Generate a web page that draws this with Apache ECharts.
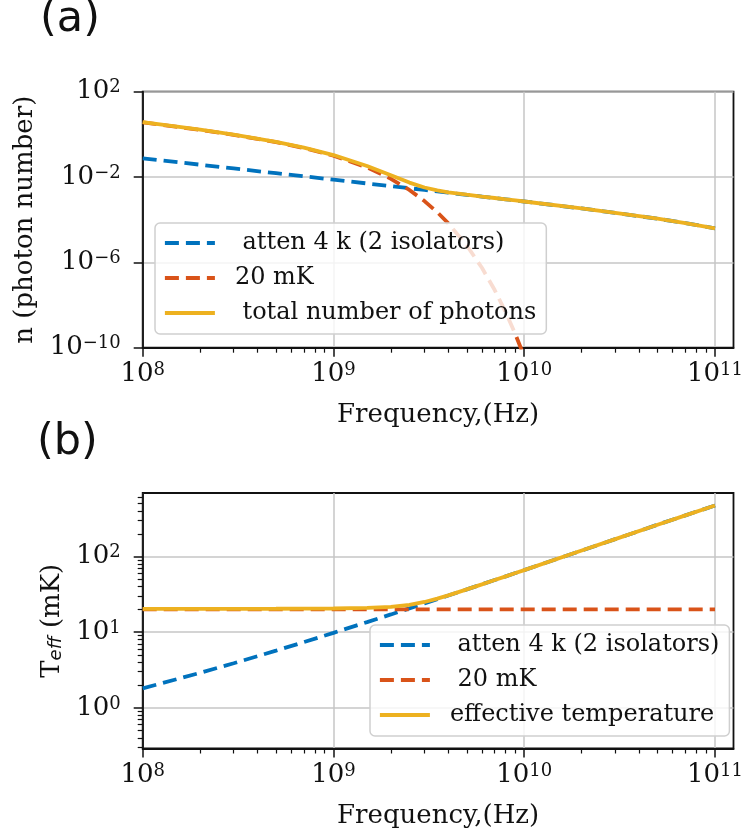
<!DOCTYPE html>
<html><head><meta charset="utf-8">
<script src="https://cdn.jsdelivr.net/npm/echarts@6.0.0/dist/echarts.min.js"></script>
<style>html,body{margin:0;padding:0;background:#fff}#c{width:746px;height:836px}</style>
</head><body><div id="c"></div>
<script>
// ---- data ----
const freqHz = [1e8,2e8,3e8,5e8,7e8,1e9,1.5e9,2e9,2.5e9,3e9,3.5e9,4e9,5e9,6e9,7e9,8e9,9e9,1e10,2e10,3e10,5e10,7e10,1e11];
// panel (a): photon number
const nAtten4K = [0.0758,0.0379,0.0252,0.01512,0.01078,0.00754,0.00501,0.00375,0.00299,0.00248,0.00212,0.00185,0.00147,0.00122,0.00104,0.000904,0.000798,0.000713,0.000336,0.000209,0.000111,6.92e-5,3.92e-5];
const n20mK = [3.69,1.623,0.949,0.431,0.229,0.0998,0.0281,0.0083,0.00249,7.47e-4,2.25e-4,6.77e-5,6.14e-6,5.57e-7,5.05e-8,4.58e-9,4.15e-10,3.78e-11,null,null,null,null,null];
const nTotal = [3.766,1.661,0.974,0.446,0.240,0.1073,0.0331,0.01205,0.00548,0.00323,0.00235,0.00192,0.00148,0.00122,0.00104,0.000904,0.000798,0.000713,0.000336,0.000209,0.000111,6.92e-5,3.92e-5];
// panel (b): effective temperature (mK)
const tAtten4K = [1.809,2.900,3.885,5.704,7.397,9.804,13.58,17.17,20.63,23.99,27.28,30.50,36.78,42.91,48.90,54.77,60.54,66.23,120.0,169.9,263.5,350.7,473.0];
const t20mK = [20,20,20,20,20,20,20,20,20,20,20,20,20,20,20,20,20,20,20,20,20,20,20];
const tEffective = [20.38,20.37,20.38,20.40,20.46,20.56,20.92,21.66,23.02,25.09,27.74,30.68,36.83,42.91,48.90,54.77,60.54,66.23,120.0,169.9,263.5,350.7,473.0];
// ticks
const xMajorTicks = [1e8,1e9,1e10,1e11];
const xMinorTicks = [2e8,3e8,4e8,5e8,6e8,7e8,8e8,9e8,2e9,3e9,4e9,5e9,6e9,7e9,8e9,9e9,2e10,3e10,4e10,5e10,6e10,7e10,8e10,9e10];
const yMajorTicksA = [1e-10,1e-6,1e-2,1e2];
const yMajorTicksB = [1,10,100];
const yMinorTicksB = [0.3,0.4,0.5,0.6,0.7,0.8,0.9,2,3,4,5,6,7,8,9,20,30,40,50,60,70,80,90,200,300,400,500,600];
// labels
const namesA = [' atten 4 k (2 isolators)', '20 mK', ' total number of photons'];
const namesB = [' atten 4 k (2 isolators)', ' 20 mK', 'effective temperature'];
const xName = 'Frequency,(Hz)';
const yNameA = 'n (photon number)';

const X_MIN = 1e8, X_MAX = 1.25e11;
const YA_MIN = 1e-10, YA_MAX = 1e2;
const YB_MIN = 0.29, YB_MAX = 692;

const C_BLUE = '#0072BD', C_RED = '#D95319', C_YEL = '#EDB120';
const SERIF = 'DejaVu Serif';
const INK = '#111';

function powLabel(v){
  const e = Math.round(Math.log10(v));
  const s = e < 0 ? '\u2212' + (-e) : String(e);
  return '{b|10}{s|' + s + '}';
}
const powRich = {
  b: {fontFamily: SERIF, fontSize: 26, color: INK},
  s: {fontFamily: SERIF, fontSize: 18, color: INK, verticalAlign: 'top'}
};

const grids = [
  {left: 142.7, top: 91.7, width: 595.3, height: 256},
  {left: 142.7, top: 493, width: 595.3, height: 255.5}
];
grids.forEach(g => { g.show = true; g.borderColor = INK; g.borderWidth = 1.8; });

function majorX(gi){
  return {
    type: 'log', gridIndex: gi, min: X_MIN, max: X_MAX, position: 'bottom',
    name: xName, nameLocation: 'middle', nameGap: 55,
    nameTextStyle: {fontFamily: SERIF, fontSize: 26, color: INK},
    axisLine: {show: true, lineStyle: {color: INK, width: 1.8}},
    axisTick: {show: true, inside: false, length: 9, lineStyle: {color: INK, width: 1.5}, customValues: xMajorTicks},
    axisLabel: {show: true, margin: 14, customValues: xMajorTicks, formatter: powLabel, rich: powRich},
    splitLine: {show: true, lineStyle: {color: '#c6c6c6', width: 1.5}}
  };
}
function minorX(gi){
  return {
    type: 'log', gridIndex: gi, min: X_MIN, max: X_MAX, position: 'bottom',
    axisLine: {show: false},
    axisTick: {show: true, inside: false, length: 5, lineStyle: {color: INK, width: 1.2}, customValues: xMinorTicks},
    axisLabel: {show: false}, splitLine: {show: false}
  };
}
function legendCfg(left, top, names){
  return {
    orient: 'vertical', left: left, top: top, data: names,
    itemWidth: 50, itemHeight: 14, itemGap: 11, padding: [8, 10, 9, 8],
    backgroundColor: 'rgba(255,255,255,0.8)', borderColor: '#cfcfcf', borderWidth: 1.5, borderRadius: 5,
    itemStyle: {opacity: 0},
    lineStyle: {width: 3.8},
    textStyle: {fontFamily: SERIF, fontSize: 24, color: INK, padding: [0, 0, 0, 15]},
    selectedMode: false
  };
}

const option = {
  animation: false,
  backgroundColor: '#fff',
  grid: grids,
  graphic: [
    {type: 'text', left: 40, top: -2, style: {text: '(a)', font: '43px "DejaVu Sans"', fill: INK}},
    {type: 'text', left: 37, top: 421, style: {text: '(b)', font: '43px "DejaVu Sans"', fill: INK}}
  ],
  xAxis: [majorX(0), minorX(0), majorX(1), minorX(1)],
  yAxis: [
    {
      type: 'log', gridIndex: 0, min: YA_MIN, max: YA_MAX,
      name: yNameA, nameLocation: 'middle', nameGap: 102, nameRotate: 90,
      nameTextStyle: {fontFamily: SERIF, fontSize: 26, color: INK},
      axisLine: {show: true, lineStyle: {color: INK, width: 1.8}},
      axisTick: {show: true, inside: false, length: 9, lineStyle: {color: INK, width: 1.5}, customValues: yMajorTicksA},
      axisLabel: {show: true, margin: 22, customValues: yMajorTicksA, formatter: powLabel, rich: powRich},
      splitLine: {show: true, lineStyle: {color: '#c6c6c6', width: 1.5}}
    },
    {
      type: 'log', gridIndex: 1, min: YB_MIN, max: YB_MAX,
      name: '{t|T}{e|eff}{t| (mK)}', nameLocation: 'middle', nameGap: 76, nameRotate: 90,
      nameTextStyle: {fontFamily: SERIF, fontSize: 26, color: INK, rich: {
        t: {fontFamily: SERIF, fontSize: 26, color: INK},
        e: {fontFamily: 'DejaVu Sans', fontStyle: 'italic', fontSize: 18, color: INK, verticalAlign: 'bottom'}
      }},
      axisLine: {show: true, lineStyle: {color: INK, width: 1.8}},
      axisTick: {show: true, inside: false, length: 9, lineStyle: {color: INK, width: 1.5}, customValues: yMajorTicksB},
      axisLabel: {show: true, margin: 22, customValues: yMajorTicksB, formatter: powLabel, rich: powRich},
      splitLine: {show: true, lineStyle: {color: '#c6c6c6', width: 1.5}}
    },
    {
      type: 'log', gridIndex: 1, min: YB_MIN, max: YB_MAX, position: 'left', offset: 0,
      axisLine: {show: false},
      axisTick: {show: true, inside: false, length: 5, lineStyle: {color: INK, width: 1.2}, customValues: yMinorTicksB},
      axisLabel: {show: false}, splitLine: {show: false}
    }
  ],
  legend: [legendCfg(155, 223, namesA), legendCfg(370, 625, namesB)],
  series: []
};

function pairs(arr){ return freqHz.map((f, i) => [f, arr[i]]); }
function mkSeries(name, arr, color, dashed, xi, yi){
  return {
    type: 'line', name: name, xAxisIndex: xi, yAxisIndex: yi, data: pairs(arr),
    symbol: 'none', color: color, connectNulls: false, clip: true,
    lineStyle: {color: color, width: 3.8, type: dashed ? [14, 7] : 'solid', cap: 'butt'}
  };
}
option.series.push(mkSeries(namesA[0], nAtten4K, C_BLUE, true, 0, 0));
option.series.push(mkSeries(namesA[1], n20mK, C_RED, true, 0, 0));
option.series.push(mkSeries(namesA[2], nTotal, C_YEL, false, 0, 0));
option.series.push(mkSeries(namesB[0], tAtten4K, C_BLUE, true, 2, 1));
option.series.push(mkSeries(namesB[1], t20mK, C_RED, true, 2, 1));
option.series.push(mkSeries(namesB[2], tEffective, C_YEL, false, 2, 1));

const chart = echarts.init(document.getElementById('c'), null, {renderer: 'canvas'});
chart.setOption(option);
</script>
</body></html>
